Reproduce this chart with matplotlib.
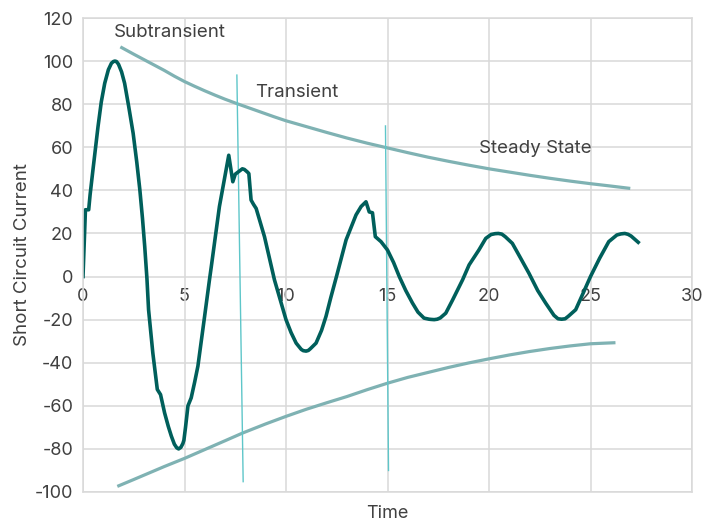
import matplotlib
matplotlib.use("Agg")
import matplotlib.pyplot as plt

plt.rcParams["font.family"] = ["Inter", "DejaVu Sans"]
plt.rcParams["axes.unicode_minus"] = False

# short circuit current trace
t = [0, 0.12, 0.28, 0.35, 0.49, 0.74, 0.9, 1.07, 1.25, 1.4, 1.5, 1.57, 1.65, 1.75, 1.9, 2.05,
     2.25, 2.47, 2.65, 2.8, 2.93, 3.04, 3.15, 3.23, 3.44, 3.66, 3.82, 4.02, 4.2,
     4.35, 4.5, 4.62, 4.71, 4.82, 4.92, 4.97, 5.05, 5.17, 5.33, 5.5, 5.66, 5.99,
     6.23, 6.32, 6.72, 7.18, 7.38, 7.5, 7.71, 7.85, 7.95, 8.1, 8.17, 8.28, 8.4,
     8.53, 8.94, 9.43, 10.0, 10.25, 10.5, 10.75, 10.85, 10.99, 11.1, 11.2, 11.48, 11.75, 11.97,
     12.2, 12.5, 12.96, 13.45, 13.7, 13.94, 14.1, 14.26, 14.4, 14.68, 15.0, 15.3,
     15.58, 15.9, 16.23, 16.5, 16.8, 17.05, 17.15, 17.3, 17.45, 17.6, 17.87, 18.2, 18.7, 19.02,
     19.5, 19.84, 20.1, 20.3, 20.46, 20.63, 20.8, 21.15, 21.5, 21.97, 22.4, 22.79, 23.2, 23.4, 23.58,
     23.75, 23.9, 24.27, 24.6, 25.0, 25.45, 25.9, 26.3, 26.5, 26.69, 26.85, 27.0, 27.35]
current = [0, 31, 31, 38, 49.5, 69.6, 81, 89.7, 96, 99, 99.8, 100, 99.8, 98.5, 95, 89.7,
           79, 66.5, 53, 40.3, 27, 14, -1, -15.4, -35.5, -52.4, -54.8, -63.3, -69.5,
           -74, -77.8, -79.5, -80, -79.3, -77.5, -76, -70, -60, -56.3, -49, -41.6, -18.5,
           -1.5, 4.6, 32.5, 56.3, 44, 47.5, 49, 50, 49.7, 48.5, 47.8, 35.5, 33.5,
           31.6, 18.5, -1.5, -20, -26, -30.9, -33.8, -34.4, -34.6, -34.3, -33.5, -30.9, -25, -18.5,
           -10, 0.5, 17, 28.6, 32.5, 34.7, 30, 29.6, 18.5, 16.2, 12.3, 6.5,
           0, -6.5, -12.3, -16.5, -19.3, -19.8, -19.9, -20, -19.8, -19.2, -17, -11, -1.5, 5.4,
           12.3, 17.7, 19.5, 19.9, 20, 19.7, 18.5, 15.4, 9.5, 1.5, -6.5, -12.3, -18, -19.6, -19.8,
           -19.6, -18.5, -15.4, -8.5, 0, 8.5, 16.2, 19.3, 19.8, 20, 19.6, 18.8, 15.9]

# decay envelopes
upper_t = [1.84, 2.5, 3.0, 3.5, 4.0, 4.5, 5.0, 5.5, 6.0, 6.5, 7.0, 7.6, 8.2, 8.8, 9.4,
           10, 11, 12, 13, 14, 15, 16, 17, 18, 19, 20, 21, 22, 23, 24, 25, 26, 26.96]
upper_v = [106.6, 103.2, 100.7, 98.2, 95.7, 93.0, 90.5, 88.3, 86.2, 84.2, 82.3, 80.2,
           78.2, 76.2, 74.2, 72.3, 69.6, 66.9, 64.3, 61.9, 59.7, 57.5, 55.4, 53.5, 51.7,
           50.0, 48.5, 47.0, 45.6, 44.3, 43.1, 42.0, 40.9]
lower_t = [1.69, 2.5, 3.3, 4.0, 5.0, 6.0, 7.0, 7.87, 9, 10, 11, 12, 13, 14, 15, 16, 17,
           18, 19, 20, 21, 22, 23, 24, 25, 26.23]
lower_v = [-97.4, -94.2, -91.0, -88.2, -84.4, -80.3, -76.2, -72.6, -68.4, -64.9, -61.6,
           -58.6, -55.7, -52.5, -49.5, -46.8, -44.5, -42.2, -40.1, -38.2, -36.4, -34.8,
           -33.4, -32.2, -31.2, -30.7]

# region dividers
div1_t = [7.58, 7.89]
div1_v = [93.5, -95.2]
div2_t = [14.9, 15.05]
div2_v = [69.9, -90]

labels = ["Subtransient", "Transient", "Steady State"]
label_t = [1.5, 8.5, 19.5]
label_v = [113.1, 85.3, 59.3]

xticks = [0, 5, 10, 15, 20, 25, 30]
yticks = list(range(-100, 121, 20))

grid_col = "#d9d9d9"
text_col = "#404040"

fig = plt.figure(figsize=(7.04, 5.24), dpi=100)
ax = fig.add_axes([83 / 704, 32 / 524, 609 / 704, 474 / 524])

ax.plot(upper_t, upper_v, color="#7fb2b3", lw=2.3, solid_capstyle="butt")
ax.plot(lower_t, lower_v, color="#7fb2b3", lw=2.3, solid_capstyle="butt")
ax.plot(div1_t, div1_v, color="#5ec6c9", lw=1.0)
ax.plot(div2_t, div2_v, color="#5ec6c9", lw=1.0)
ax.plot(t, current, color="#005f5b", lw=2.6, solid_joinstyle="round")

for txt, x, y in zip(labels, label_t, label_v):
    ax.text(x, y, txt, fontsize=13.5, color=text_col, va="center", ha="left")

ax.set_xlim(0, 30)
ax.set_ylim(-100, 120)
ax.set_xticks(xticks)
ax.set_yticks(yticks)
ax.grid(True, color=grid_col, lw=1.1)
ax.set_axisbelow(True)
for s in ax.spines.values():
    s.set_color(grid_col)
    s.set_linewidth(1.1)
ax.tick_params(axis="x", length=0, labelbottom=False)
ax.tick_params(axis="y", length=0, pad=7, labelsize=13, labelcolor=text_col)

# x tick labels sit on the zero line
sec = ax.secondary_xaxis(100 / 220)
sec.set_xticks(xticks)
sec.tick_params(length=0, pad=8, labelsize=13, labelcolor=text_col)
sec.spines["bottom"].set_visible(False)

ax.set_xlabel("Time", fontsize=13, color=text_col)
ax.xaxis.set_label_coords(0.5, -0.028)
ax.set_ylabel("Short Circuit Current", fontsize=13.5, color=text_col)
ax.yaxis.set_label_coords(-0.085, 0.5)

plt.savefig("out.png", dpi=100)
